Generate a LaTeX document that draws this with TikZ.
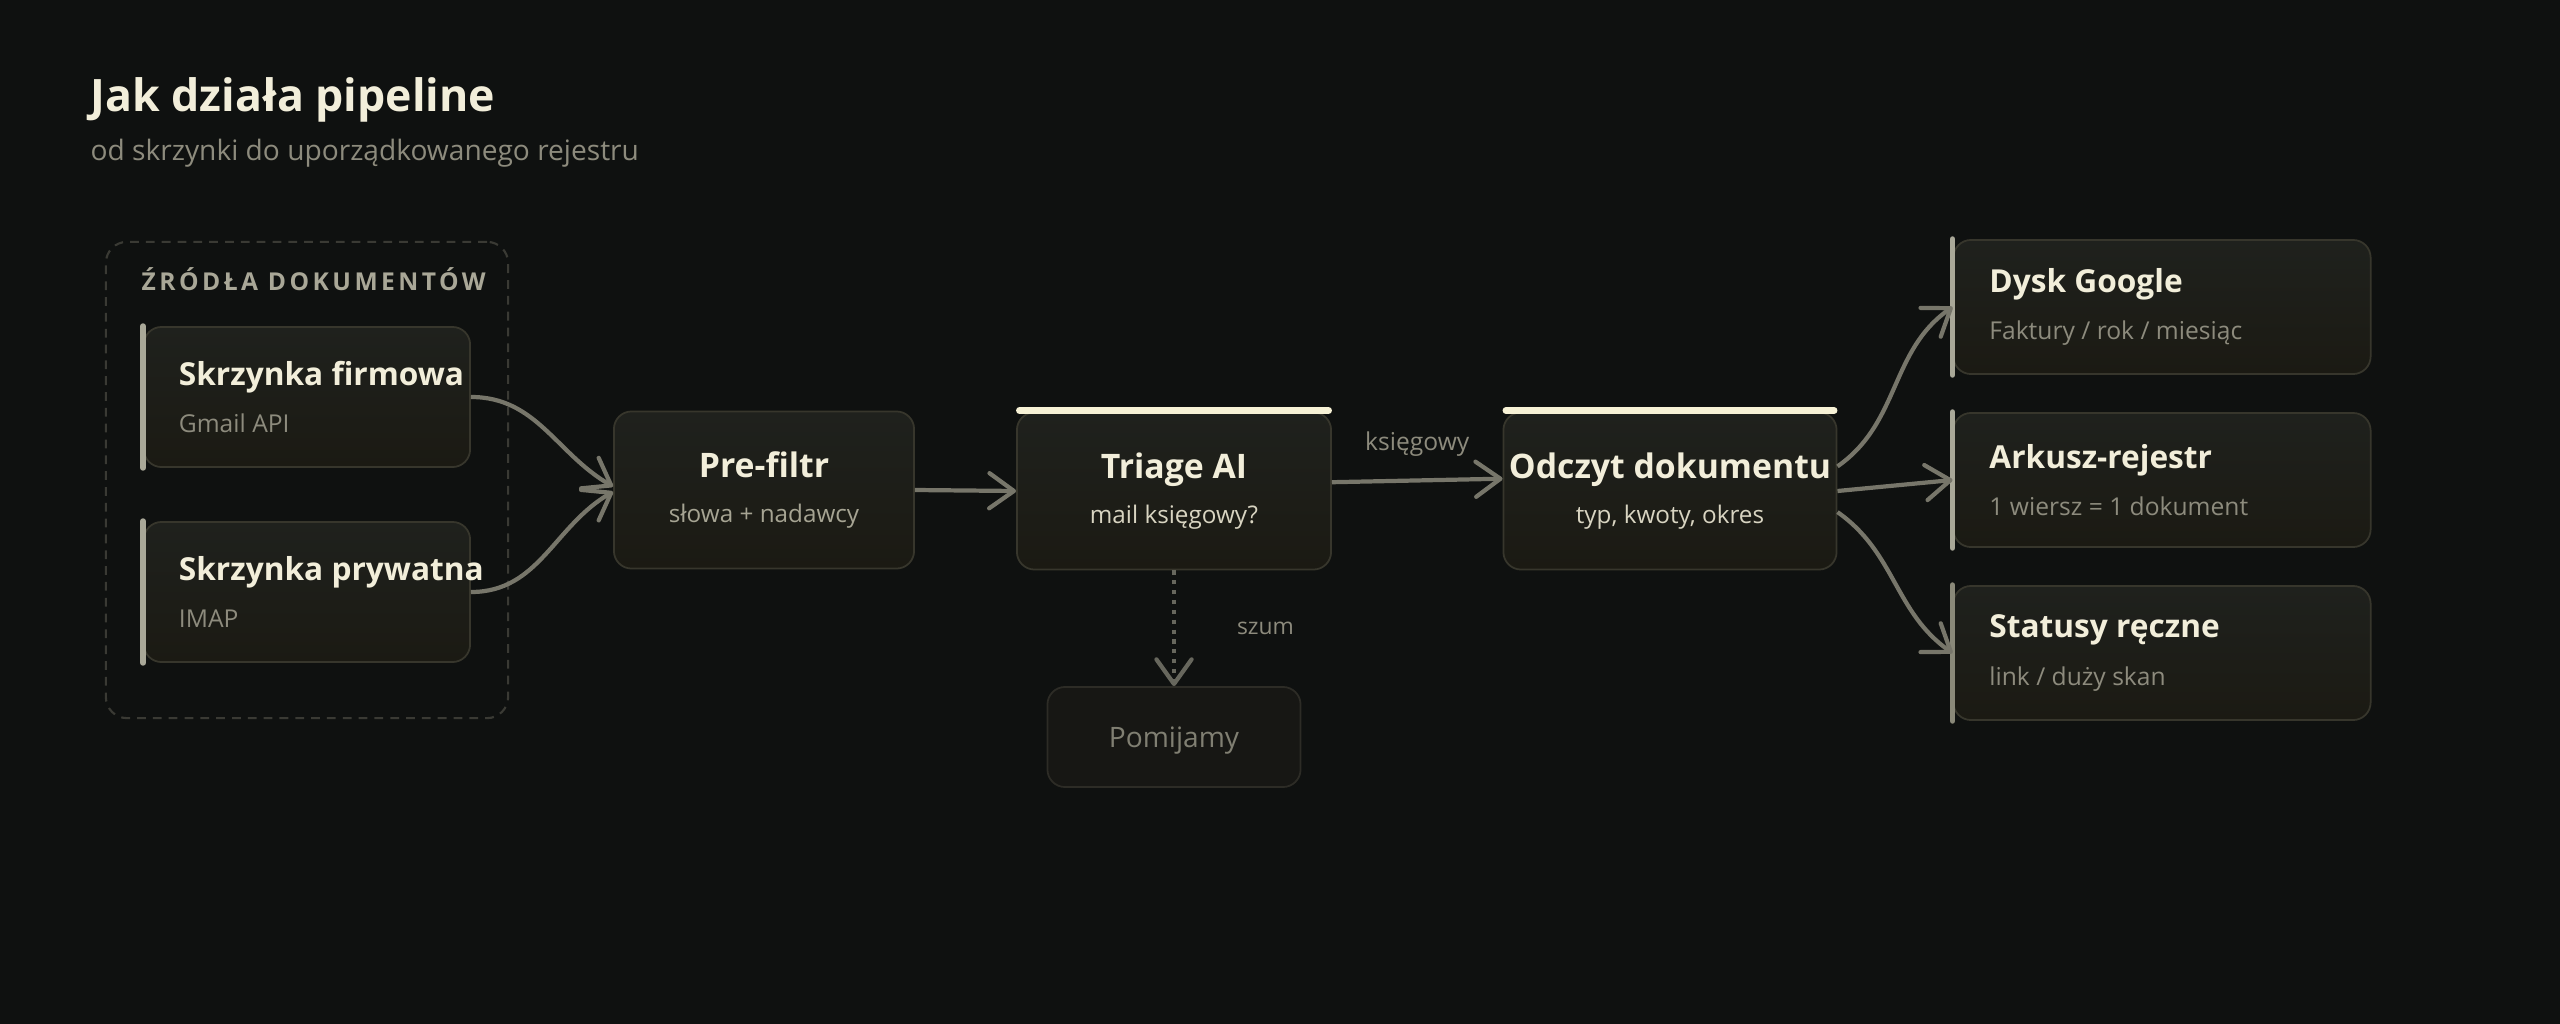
\documentclass[tikz,border=0pt]{standalone}
\usepackage{fontspec}
\setmainfont{Open Sans}
\usepackage{tikz}
\usetikzlibrary{arrows.meta}

\definecolor{bgcol}{HTML}{0F1110}
\definecolor{cream}{HTML}{F2EEDA}
\definecolor{mutedtext}{HTML}{8D8B7D}
\definecolor{labeltext}{HTML}{A9A797}
\definecolor{midsub}{HTML}{A6A493}
\definecolor{lightsub}{HTML}{D8D4C1}
\definecolor{cardtop}{HTML}{1F211D}
\definecolor{cardbottom}{HTML}{1B1A13}
\definecolor{cardline}{HTML}{37362C}
\definecolor{barcol}{HTML}{A9A898}
\definecolor{darkbar}{HTML}{8A8979}
\definecolor{arrowcol}{HTML}{77766A}
\definecolor{hilite}{HTML}{F7F2D6}
\definecolor{skipfill}{HTML}{171714}
\definecolor{skipline}{HTML}{2D2C26}
\definecolor{skiptext}{HTML}{807F72}
\definecolor{grouplinecol}{HTML}{3A3A34}

\newcommand{\cardtitle}[1]{{\bfseries\fontsize{9}{13.4}\selectfont\mbox{#1}}}
\newcommand{\cardsub}[1]{{\fontsize{7}{13.4}\selectfont\color{mutedtext}#1}}
\newcommand{\midtitle}[1]{{\bfseries\fontsize{9.6}{13}\selectfont #1}}
\newcommand{\midsub}[2]{{\fontsize{6.9}{13}\selectfont\color{#1}#2}}

\begin{document}
\begin{tikzpicture}[x=0.01cm,y=-0.01cm,>={Straight Barb[round,length=7pt,width=10pt]},
	card/.style={draw=cardline, line width=0.5pt, top color=cardtop, bottom color=cardbottom,
		rounded corners=5pt, text=cream, inner ysep=0pt},
	srccard/.style={card, align=flush left, minimum width=3.26cm, minimum height=1.4cm,
		text width=2.56cm, inner xsep=0.35cm, font=\fontsize{9}{13.4}\selectfont},
	destcard/.style={card, align=flush left, minimum width=4.17cm, minimum height=1.34cm,
		text width=3.45cm, inner xsep=0.36cm, font=\fontsize{9}{13.4}\selectfont},
	stepcard/.style={card, align=center, minimum height=1.57cm, inner xsep=0pt,
		font=\fontsize{9.6}{13}\selectfont},
	skipcard/.style={draw=skipline, line width=0.5pt, fill=skipfill, rounded corners=5pt,
		text=skiptext, minimum width=2.53cm, minimum height=1cm, text depth=0pt,
		font=\fontsize{8}{10}\selectfont},
	group/.style={draw=grouplinecol, line width=0.6pt, dash pattern=on 2.5pt off 2pt, rounded corners=6pt},
	accentbar/.style={draw=barcol, line width=1.6pt, line cap=round},
	topbar/.style={draw=hilite, line width=2pt, line cap=round},
	flow/.style={->, draw=arrowcol, line width=1.2pt},
	noise/.style={->, draw=arrowcol!85!bgcol, line width=1.2pt, dash pattern=on 1.2pt off 1.6pt},
	edgelabel/.style={text=mutedtext, font=\fontsize{7}{9}\selectfont}]

	\fill[bgcol] (0,0) rectangle (2560,1024);
	\useasboundingbox (0,0) rectangle (2560,1024);

	\node[anchor=base west, inner sep=0, text=cream, font=\bfseries\fontsize{12.7}{15}\selectfont] (title) at (90,111) {Jak działa pipeline};
	\node[anchor=base west, inner sep=0, text=mutedtext, font=\fontsize{8}{10}\selectfont] (subtitle) at (90,160) {od skrzynki do uporządkowanego rejestru};

	\node[group, minimum width=4.02cm, minimum height=4.76cm] (sources) at (307,480) {};
	\node[anchor=base west, inner sep=0, text=labeltext, font=\bfseries\fontsize{7}{9}\selectfont\addfontfeature{LetterSpace=14}] (sourceslabel) at (141,290) {ŹRÓDŁA DOKUMENTÓW};

	\node[srccard] (firmowa) at (307,397) {\cardtitle{Skrzynka firmowa}\\\cardsub{Gmail API}};
	\node[srccard] (prywatna) at (307,592) {\cardtitle{Skrzynka prywatna}\\\cardsub{IMAP}};

	\node[stepcard, minimum width=3cm] (prefiltr) at (764,490) {\midtitle{Pre-filtr}\\\midsub{midsub}{słowa + nadawcy}};
	\node[stepcard, minimum width=3.14cm] (triage) at (1174,491) {\midtitle{Triage AI}\\\midsub{lightsub}{mail księgowy?}};
	\node[stepcard, minimum width=3.33cm] (odczyt) at (1670,491) {\midtitle{Odczyt dokumentu}\\\midsub{lightsub}{typ, kwoty, okres}};
	\node[skipcard] (pomijamy) at (1174,737) {Pomijamy};

	\node[destcard] (dysk) at (2162,307) {\cardtitle{Dysk Google}\\\cardsub{Faktury / rok / miesiąc}};
	\node[destcard] (arkusz) at (2162,480) {\cardtitle{Arkusz-rejestr}\\\cardsub{1 wiersz = 1 dokument}};
	\node[destcard] (statusy) at (2162,653) {\cardtitle{Statusy ręczne}\\\cardsub{link / duży skan}};

	\draw[accentbar] (firmowa.north west) -- (firmowa.south west);
	\draw[accentbar] (prywatna.north west) -- (prywatna.south west);
	\draw[accentbar] (dysk.north west) -- (dysk.south west);
	\draw[accentbar] (arkusz.north west) -- (arkusz.south west);
	\draw[accentbar, draw=darkbar] (statusy.north west) -- (statusy.south west);
	\draw[topbar] ([xshift=1pt,yshift=0.3pt]triage.north west) -- ([xshift=-1pt,yshift=0.3pt]triage.north east);
	\draw[topbar] ([xshift=1pt,yshift=0.3pt]odczyt.north west) -- ([xshift=-1pt,yshift=0.3pt]odczyt.north east);

	\draw[flow] (firmowa.east) to[out=0, in=150] ([yshift=1pt]prefiltr.west);
	\draw[flow] (prywatna.east) to[out=0, in=210] ([yshift=-0.5pt]prefiltr.west);
	\draw[flow] (prefiltr.east) -- (triage.west);
	\draw[flow] ([yshift=2.5pt]triage.east) -- node[edgelabel, above, yshift=3pt] (ksiegowy) {księgowy} ([yshift=3.5pt]odczyt.west);
	\draw[noise] (triage.south) -- node[edgelabel, right, xshift=14pt, font=\fontsize{6.5}{9}\selectfont] (szum) {szum} (pomijamy.north);
	\draw[flow] ([yshift=7pt]odczyt.east) to[out=35, in=215] (dysk.west);
	\draw[flow] (odczyt.east) -- (arkusz.west);
	\draw[flow] ([yshift=-6pt]odczyt.east) to[out=-35, in=145] (statusy.west);
\end{tikzpicture}
\end{document}
